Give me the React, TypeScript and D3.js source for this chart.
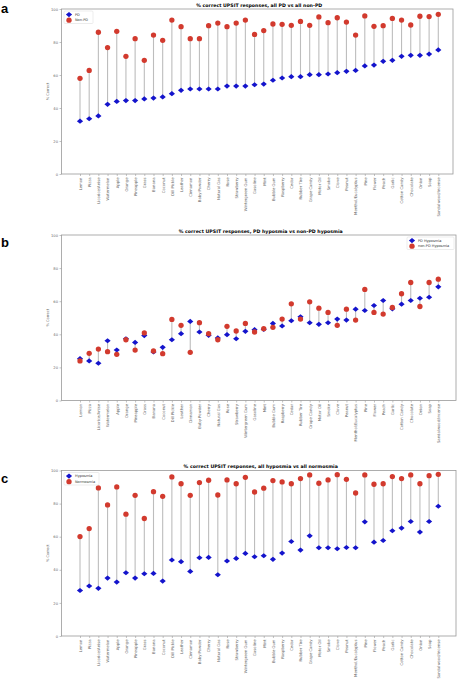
import React, { useEffect, useRef } from 'react';
import * as d3 from 'd3';

// odour items, ordered as in the figure
const odours = [
  'Lemon', 'Pizza', 'Licorice/Anise', 'Watermelon', 'Apple', 'Orange', 'Pineapple', 'Grass',
  'Banana', 'Coconut', 'Dill Pickle', 'Leather', 'Cinnamon', 'Baby Powder', 'Cherry', 'Natural Gas',
  'Rose', 'Strawberry', 'Wintergreen Gum', 'Gasoline', 'Mint', 'Bubble Gum', 'Raspberry', 'Cedar',
  'Rubber Tire', 'Grape Candy', 'Motor Oil', 'Smoke', 'Clove', 'Peanut', 'Menthol/Eucalyptus', 'Pine',
  'Flower', 'Peach', 'Garlic', 'Cotton Candy', 'Chocolate', 'Onion', 'Soap', 'Sandalwood/Incense',
];

// panel a
const pdAll = [32, 33.5, 35.2, 42.2, 44, 44.5, 44.5, 45.5, 46, 46.7, 48.7, 50.7, 51.5, 51.5, 51.5, 51.5, 53.3, 53.3, 53.3, 54.1,
  54.5, 56.8, 58.2, 59, 59, 60.2, 60.2, 60.6, 61.4, 62.2, 62.8, 65.5, 66, 68.3, 68.9, 71.3, 71.9, 71.9, 72.7, 75.2];
const nonPdAll = [58, 62.8, 85.9, 76.6, 86.5, 71.3, 82, 68.9, 84.2, 81, 93.3, 89.3, 82, 82, 89.9, 91.5, 89.3, 91.5, 93.3, 84.6,
  86.9, 90.9, 90.7, 90.1, 92.5, 90.1, 95.2, 91.7, 94.7, 92.1, 84.2, 95.8, 89.5, 89.9, 94.3, 93.3, 90.3, 95.6, 95.4, 96.8];

// panel b
const pdHypo = [25.3, 23.9, 22.5, 36.1, 30.5, 37.3, 35.1, 39.2, 29.3, 32.1, 36.7, 40.4, 47.8, 41.4, 39.4, 37.8, 39.8, 37.3, 41.8, 42.8,
  43, 46.6, 45, 48.2, 50.6, 47, 46, 47, 49.2, 48.6, 55.2, 54.4, 57.4, 60.4, 55.4, 58.2, 60.4, 61.8, 62.4, 68.7];
const nonPdHypo = [23.9, 28.5, 31.1, 29.5, 27.9, 36.7, 30.5, 40.8, 29.9, 28.3, 49, 45.4, 29.1, 47, 40.4, 36.7, 44.8, 42, 46.6, 41.4,
  43.4, 44.2, 49.2, 58.4, 49.2, 59.6, 55.8, 53.2, 45.4, 55.2, 48.6, 67.1, 53.2, 52.2, 56.2, 64.5, 71.3, 56.8, 71.3, 73.3];

// panel c
const hypoAll = [27.5, 30.2, 28.8, 35, 32.6, 38.2, 35, 37.6, 37.8, 33.2, 45.9, 44.9, 39, 47.3, 47.5, 37, 45.3, 46.9, 49.9, 47.9,
  48.5, 46.3, 50.1, 57.1, 51.9, 60.5, 53.3, 53.3, 52.7, 53.5, 53.3, 69, 56.7, 57.7, 63.6, 65.2, 69.2, 62.8, 69.2, 78.4];
const normoAll = [60.1, 64.9, 89.5, 79.2, 90.1, 73.6, 85, 71, 87.2, 84.4, 96.1, 92, 85, 92.7, 94.1, 85.2, 94.3, 92, 95.9, 87,
  89.3, 93.9, 93.1, 92, 95.1, 97.3, 92.3, 94.3, 97.5, 94.7, 86.4, 97.3, 91.7, 92, 96.3, 95.1, 97.3, 92, 96.9, 97.7];

const yTicks = [0, 20, 40, 60, 80, 100];

const BLUE = '#1414cc';
const RED = '#d23a2e';
const FONT = '"DejaVu Sans", sans-serif';

interface Panel {
  letter: string;
  title: string;
  blue: number[];
  red: number[];
  blueName: string;
  redName: string;
  top: number;
  bottom: number;
  right: number;
  legend: 'left' | 'right';
}

const panels: Panel[] = [
  { letter: 'a', title: '% correct UPSIT responses, all PD vs all non-PD', blue: pdAll, red: nonPdAll,
    blueName: 'PD', redName: 'Non-PD', top: 9, bottom: 174, right: 453, legend: 'left' },
  { letter: 'b', title: '% correct UPSIT responses, PD hyposmia vs non-PD hyposmia', blue: pdHypo, red: nonPdHypo,
    blueName: 'PD Hyposmia', redName: 'non-PD Hyposmia', top: 235, bottom: 400.5, right: 456, legend: 'right' },
  { letter: 'c', title: '% correct UPSIT responses, all hyposmia vs all normosmia', blue: hypoAll, red: normoAll,
    blueName: 'Hyposmia', redName: 'Normosmia', top: 470.5, bottom: 636, right: 456, legend: 'left' },
];

const LEFT = 61.5;

export default function App() {
  const svgRef = useRef<SVGSVGElement>(null);

  useEffect(() => {
    if (!svgRef.current) return;
    const svg = d3.select(svgRef.current);
    svg.selectAll('*').remove();

    const diamond = d3.symbol().type(d3.symbolDiamond2).size(17);
    const circle = d3.symbol().type(d3.symbolCircle).size(22);

    panels.forEach((p) => {
      const g = svg.append('g');
      const idx = odours.map((_, i) => i);

      // first/last items land at x=80 and x=438.3
      const step = (438.3 - 80) / 39;
      const x = d3.scaleLinear()
        .domain([-(80 - LEFT) / step, 39 + (p.right - 438.3) / step])
        .range([LEFT, p.right]);
      const y = d3.scaleLinear().domain([0, 100]).range([p.bottom, p.top]);

      // panel letter
      g.append('text')
        .attr('x', 1).attr('y', p.top + (p.letter === 'a' ? 4 : 12))
        .attr('font-family', '"Liberation Sans", Arial, sans-serif')
        .attr('font-weight', 'bold').attr('font-size', 13)
        .text(p.letter);

      // title
      g.append('text')
        .attr('x', (LEFT + p.right) / 2 + 2).attr('y', p.top - 2.5)
        .attr('text-anchor', 'middle')
        .attr('font-family', FONT).attr('font-weight', 'bold').attr('font-size', 4.7)
        .text(p.title);

      // axes box
      g.append('rect')
        .attr('x', LEFT).attr('y', p.top)
        .attr('width', p.right - LEFT).attr('height', p.bottom - p.top)
        .attr('fill', 'none').attr('stroke', '#9a9a9a').attr('stroke-width', 0.8);

      // y axis
      const yAxis = g.append('g')
        .attr('transform', `translate(${LEFT},0)`)
        .call(d3.axisLeft(y).tickValues(yTicks).tickSize(2).tickPadding(1.5) as any);
      yAxis.select('.domain').remove();
      yAxis.selectAll('line').attr('stroke', '#9a9a9a').attr('stroke-width', 0.6);
      yAxis.selectAll('text').attr('fill', '#666').attr('font-size', 3.7).attr('font-family', FONT);

      g.append('text')
        .attr('transform', `translate(${LEFT - 13},${(p.top + p.bottom) / 2}) rotate(-90)`)
        .attr('text-anchor', 'middle')
        .attr('font-family', FONT).attr('font-size', 3.6).attr('fill', '#666')
        .text('% Correct');

      // x axis
      const xAxis = g.append('g')
        .attr('transform', `translate(0,${p.bottom})`)
        .call(d3.axisBottom(x).tickValues(idx).tickSize(2)
          .tickFormat((d) => odours[Number(d)]) as any);
      xAxis.select('.domain').remove();
      xAxis.selectAll('line').attr('stroke', '#9a9a9a').attr('stroke-width', 0.6);
      xAxis.selectAll('text')
        .attr('fill', '#666').attr('font-size', 3.8).attr('font-family', FONT)
        .attr('transform', 'rotate(-90)')
        .attr('text-anchor', 'end')
        .attr('x', -3.5).attr('y', 0).attr('dy', '0.35em');

      // stems
      g.append('g').selectAll('line')
        .data(idx)
        .join('line')
        .attr('x1', (i) => x(i)).attr('x2', (i) => x(i))
        .attr('y1', (i) => y(p.blue[i])).attr('y2', (i) => y(p.red[i]))
        .attr('stroke', '#bdbdbd').attr('stroke-width', 1.1);

      g.append('g').selectAll('path')
        .data(idx)
        .join('path')
        .attr('d', diamond as any)
        .attr('transform', (i) => `translate(${x(i)},${y(p.blue[i])}) scale(1.2,1)`)
        .attr('fill', BLUE);

      g.append('g').selectAll('path')
        .data(idx)
        .join('path')
        .attr('d', circle as any)
        .attr('transform', (i) => `translate(${x(i)},${y(p.red[i])})`)
        .attr('fill', RED);

      // legend
      const lw = p.legend === 'left' ? (p.letter === 'a' ? 29 : 35) : 47;
      const lx = p.legend === 'left' ? LEFT + 2.5 : p.right - lw - 2;
      const ly = p.top + 2;
      const lg = g.append('g').attr('transform', `translate(${lx},${ly})`);
      lg.append('rect')
        .attr('width', lw).attr('height', 12.5).attr('rx', 1)
        .attr('fill', 'white').attr('stroke', '#d8d8d8').attr('stroke-width', 0.5);
      [[p.blueName, 'blue'], [p.redName, 'red']].forEach(([name, kind], k) => {
        const cy = 3.6 + k * 5.6;
        lg.append('path')
          .attr('d', (kind === 'blue' ? diamond : circle) as any)
          .attr('transform', `translate(5,${cy})${kind === 'blue' ? ' scale(1.2,1)' : ''}`)
          .attr('fill', kind === 'blue' ? BLUE : RED);
        lg.append('text')
          .attr('x', 11).attr('y', cy).attr('dy', '0.35em')
          .attr('font-family', FONT).attr('font-size', 3.5).attr('fill', '#333')
          .text(name);
      });
    });
  }, []);

  return (
    <div style={{ position: 'absolute', left: 0, top: 0, width: 458, height: 680, background: 'white' }}>
      <svg ref={svgRef} width={458} height={680} style={{ display: 'block' }} />
    </div>
  );
}
